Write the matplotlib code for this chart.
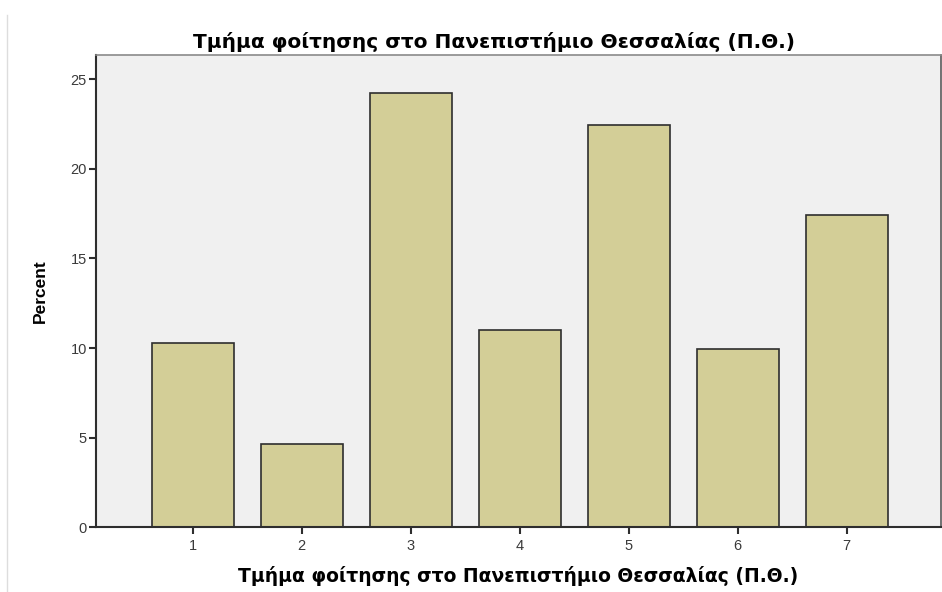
import matplotlib
matplotlib.use("Agg")
import matplotlib.pyplot as plt
from matplotlib.lines import Line2D

plt.rcParams['font.family'] = ['Liberation Sans', 'DejaVu Sans']

categories = [1, 2, 3, 4, 5, 6, 7]
percent = [10.30, 4.63, 24.22, 11.01, 22.43, 9.93, 17.43]
yticks = [0, 5, 10, 15, 20, 25]
title = 'Τμήμα φοίτησης στο Πανεπιστήμιο Θεσσαλίας (Π.Θ.)'

fig = plt.figure(figsize=(9.42, 5.92), dpi=100, facecolor='white')
ax = fig.add_axes([0.1019, 0.1093, 0.8967, 0.7978], facecolor='#f0f0f0')

ax.bar(categories, percent, width=0.75, color='#d3ce97',
       edgecolor='#2e2e2e', linewidth=1.2, zorder=2)

ax.set_xlim(0.113, 7.862)
ax.set_ylim(0, 26.35)
ax.set_xticks(categories)
ax.set_yticks(yticks)
ax.tick_params(axis='both', direction='out', length=5, width=1.5,
               colors='#2e2e2e', labelsize=10.5, labelcolor='#3a3a3a')
ax.tick_params(axis='y', pad=1.5)

ax.spines['left'].set_color('#2e2e2e')
ax.spines['left'].set_linewidth(1.5)
ax.spines['bottom'].set_color('#2e2e2e')
ax.spines['bottom'].set_linewidth(1.5)
ax.spines['top'].set_color('#8a8a8a')
ax.spines['top'].set_linewidth(1.2)
ax.spines['right'].set_color('#5a5a5a')
ax.spines['right'].set_linewidth(1.2)

ax.set_ylabel('Percent', fontsize=12.5, fontweight='bold', labelpad=16)
ax.set_xlabel(title, fontsize=13.5, fontweight='bold', family='DejaVu Sans',
              labelpad=9)
fig.text(494 / 942, 1 - 42 / 592, title, fontsize=14.5, fontweight='bold',
         family='DejaVu Sans', ha='center', va='center')

# thin frame line on the left edge of the image
fig.add_artist(Line2D([7 / 942, 7 / 942], [0, 1 - 15 / 592],
                      transform=fig.transFigure, color='#dddddd', linewidth=1))

fig.savefig('out.png', dpi=100, facecolor='white')
